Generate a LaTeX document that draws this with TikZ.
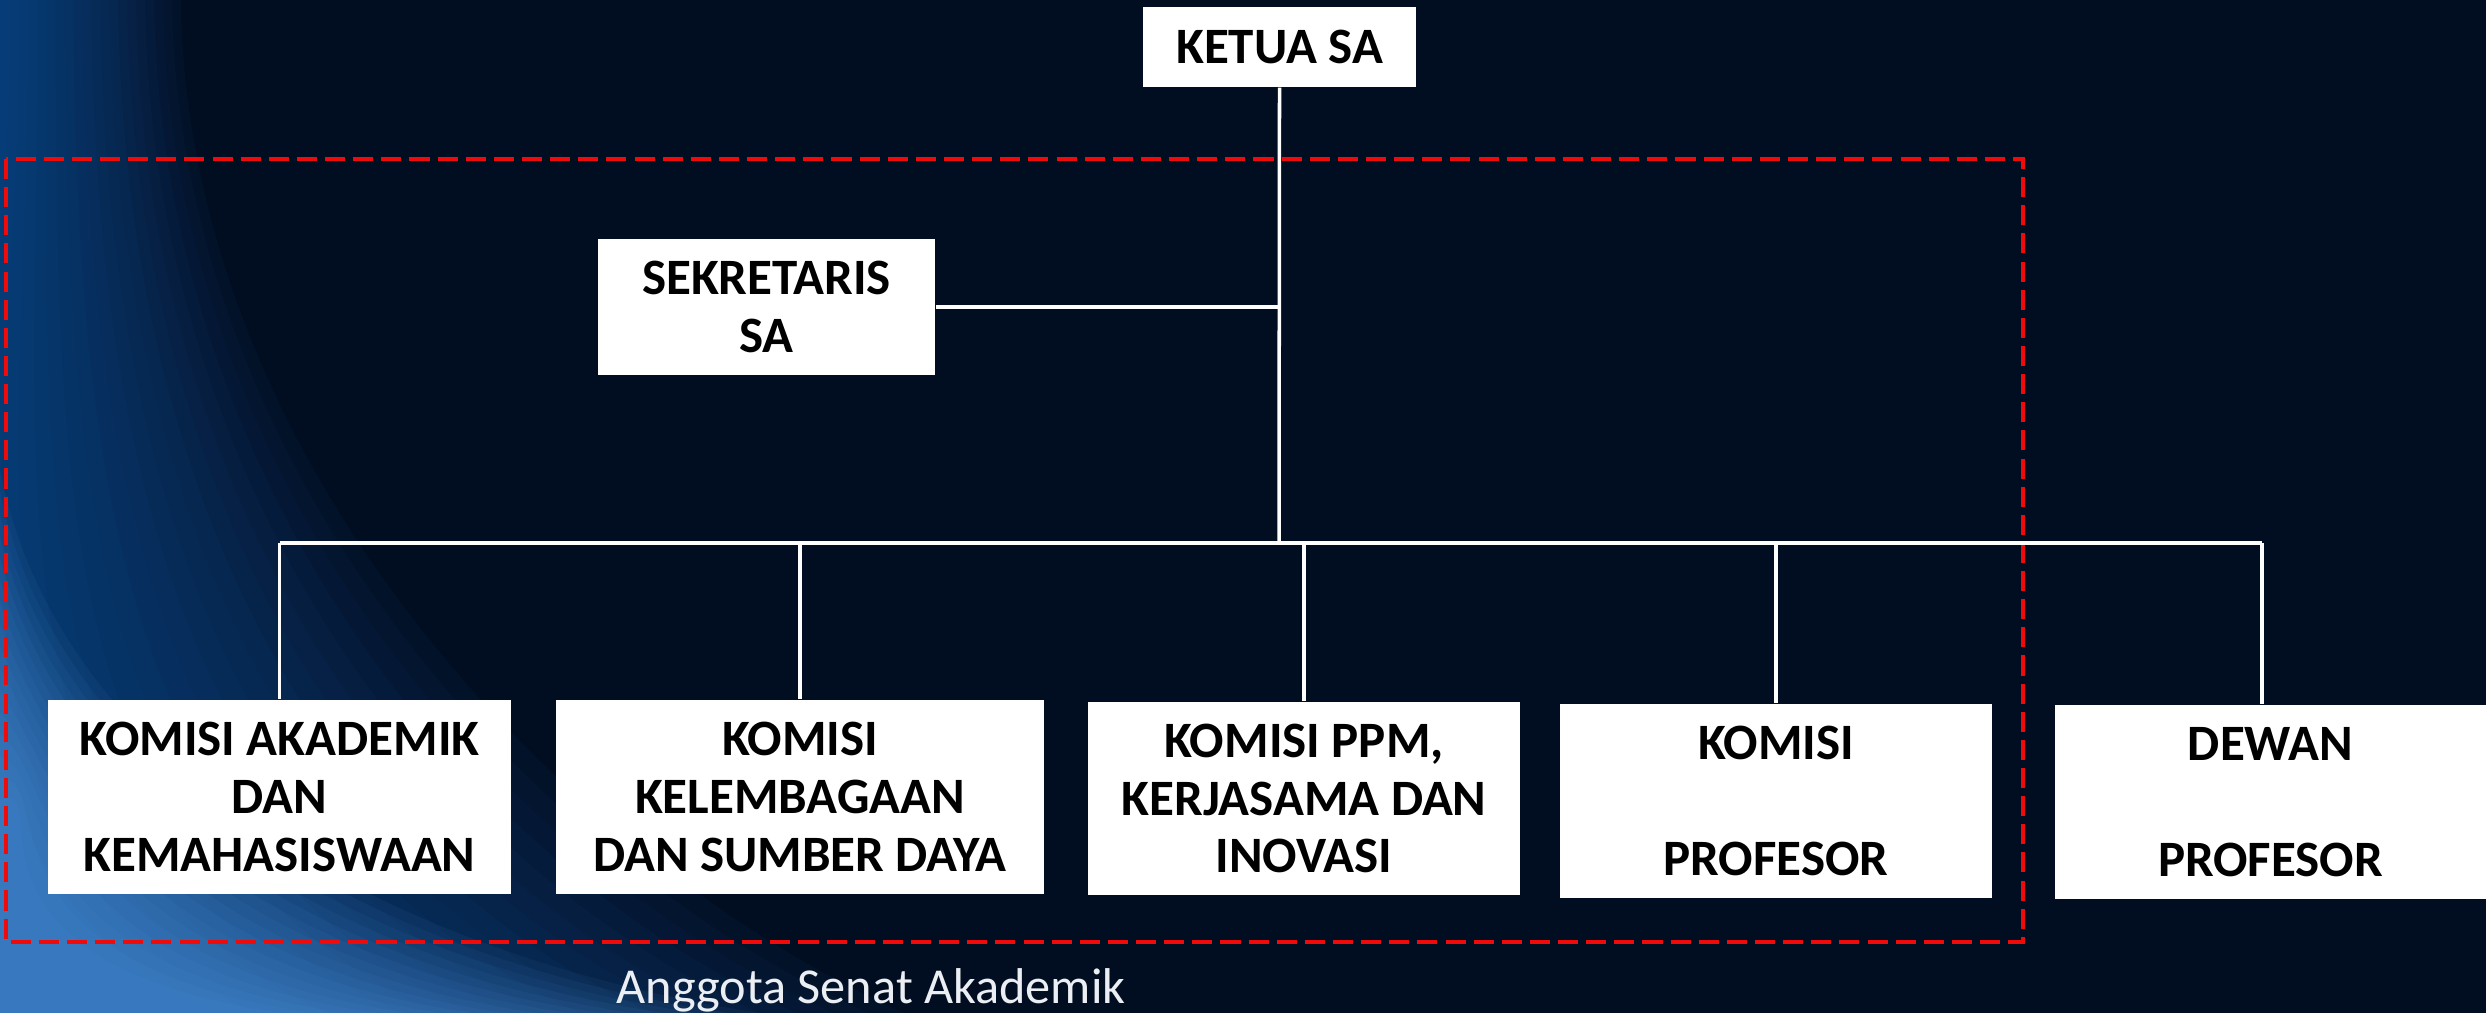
\documentclass[tikz,border=0pt]{standalone}
\usepackage{fontspec}
\setmainfont{Carlito}
\definecolor{bgnavy}{RGB}{1,14,34}
\definecolor{streak}{RGB}{25,95,175}
\definecolor{glow}{RGB}{95,165,240}
\definecolor{dashred}{RGB}{240,10,10}
\definecolor{captext}{RGB}{235,238,242}
\tikzset{
  orgbox/.style={fill=white, draw=none, align=center, inner sep=0pt,
    font=\bfseries\fontsize{14.5}{16.4}\selectfont, text=black},
  link/.style={draw=white, line width=1pt},
  grouping/.style={draw=dashred, line width=0.9pt, dash pattern=on 5.7pt off 2.3pt}
}
\begin{document}
\begin{tikzpicture}[x=0.01cm, y=-0.01cm]
\useasboundingbox (0,0) rectangle (2486,1013);
\begin{scope}
\clip (0,0) rectangle (2486,1013);
\fill[bgnavy] (0,0) rectangle (2486,1013);
% left blue streaks
\foreach \k in {0,...,19}{
  \pgfmathsetmacro{\tx}{10+9*\k}
  \pgfmathsetmacro{\bx}{220+36*\k}
  \fill[streak, opacity=0.05] (0,0) -- (\tx,0) .. controls (\tx+5,450) and (\bx-360,850) .. (\bx,1013) -- (0,1013) -- cycle;
}
% bottom-left glow
\foreach \k in {0,...,15}{
  \pgfmathsetmacro{\ty}{470+22*\k}
  \pgfmathsetmacro{\bx}{760-32*\k}
  \fill[glow, opacity=0.06] (0,\ty) .. controls (60,780) and (\bx-350,960) .. (\bx,1013) -- (0,1013) -- cycle;
}
\end{scope}

% dashed group frame
\draw[grouping] (6,159) rectangle (2023,942);

% nodes
\node[orgbox, minimum width=2.73cm, minimum height=0.80cm] (ketua) at (1279.5,47) {KETUA SA};
\node[orgbox, minimum width=3.37cm, minimum height=1.36cm] (sek) at (766.5,307) {SEKRETARIS\\SA};
\node[orgbox, minimum width=4.63cm, minimum height=1.94cm] (b1) at (279.5,797) {KOMISI AKADEMIK\\DAN\\KEMAHASISWAAN};
\node[orgbox, minimum width=4.88cm, minimum height=1.94cm] (b2) at (800,797) {KOMISI\\KELEMBAGAAN\\DAN SUMBER DAYA};
\node[orgbox, minimum width=4.32cm, minimum height=1.93cm] (b3) at (1304,798.5) {KOMISI PPM,\\KERJASAMA DAN\\INOVASI};
\node[orgbox, minimum width=4.32cm, minimum height=1.94cm] (b4) at (1776,801) {KOMISI\\[16.4pt]PROFESOR};
\node[orgbox, minimum width=4.31cm, minimum height=1.94cm] (b5) at (2270.5,802) {DEWAN\\[16.4pt]PROFESOR};
\node[anchor=base, text=captext, font=\fontsize{14.3}{16}\selectfont, inner sep=0pt] (cap) at (871,1003) {Anggota Senat Akademik};

% connectors
\coordinate (hub) at (1279,543);
\coordinate (barL) at (279.5,543);
\coordinate (barR) at (2262,543);
\draw[link] (ketua.south) -- (hub);
\draw[link] (sek.east) -- (sek.east -| hub);
\draw[link, line width=1.2pt] (barL) -- (barR);
\draw[link] (b1.north) -- (b1.north |- hub);
\draw[link] (b2.north) -- (b2.north |- hub);
\draw[link] (b3.north) -- (b3.north |- hub);
\draw[link] (b4.north) -- (b4.north |- hub);
\draw[link] (barR) -- (barR |- b5.north);
\end{tikzpicture}
\end{document}
